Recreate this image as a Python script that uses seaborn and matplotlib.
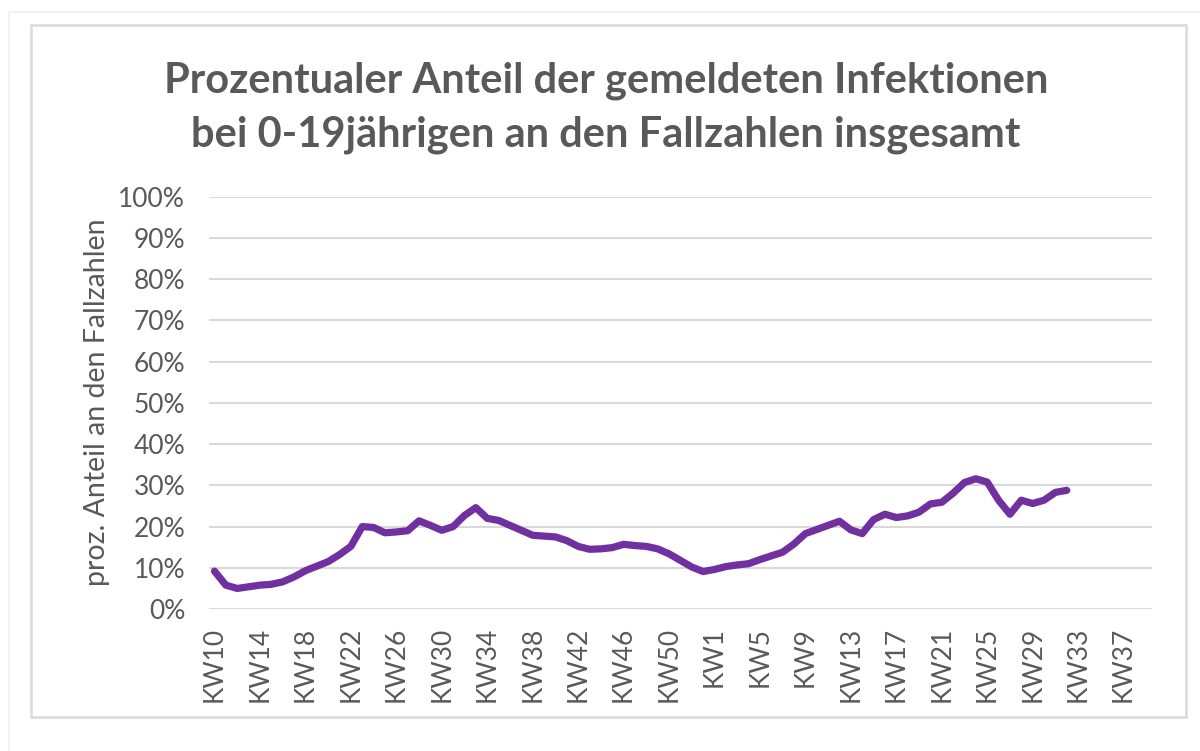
import pandas as pd
import seaborn as sns
import matplotlib.pyplot as plt
from matplotlib.patches import Rectangle
from matplotlib.lines import Line2D
from matplotlib.ticker import PercentFormatter

# calendar weeks on the category axis: 2020 had 53 weeks, axis runs into 2021
weeks_2020 = [f"KW{w}" for w in range(10, 54)]
weeks_2021 = [f"KW{w}" for w in range(1, 40)]
week_labels = weeks_2020 + weeks_2021

# share of reported infections among 0-19 year olds (percent)
share_2020 = [9.2, 5.8, 5.0, 5.4, 5.8, 6.0, 6.6, 7.8, 9.3, 10.4, 11.5, 13.2, 15.2, 20.0,
              19.8, 18.5, 18.7, 19.0, 21.4, 20.3, 19.1, 20.0, 22.7, 24.6, 22.0, 21.5,
              20.3, 19.1, 17.9, 17.7, 17.5, 16.6, 15.2, 14.5, 14.6, 14.9, 15.7, 15.4,
              15.2, 14.6, 13.4, 11.8, 10.2, 9.1]
share_2021 = [9.6, 10.3, 10.7, 11.0, 12.0, 12.9, 13.8, 15.8, 18.3, 19.3, 20.3, 21.3,
              19.2, 18.3, 21.7, 23.0, 22.2, 22.6, 23.5, 25.5, 25.9, 28.1, 30.7, 31.6,
              30.8, 26.4, 23.0, 26.4, 25.6, 26.4, 28.3, 28.8]

title = "Prozentualer Anteil der gemeldeten Infektionen\nbei 0-19jährigen an den Fallzahlen insgesamt"
ylabel = "proz. Anteil an den Fallzahlen"

values = share_2020 + share_2021
df = pd.DataFrame({"pos": range(len(values)), "share": [v / 100 for v in values]})

sns.set_style("white")
plt.rcParams['font.family'] = ['Lato', 'DejaVu Sans']

text_color = "#595959"
grid_color = "#D9D9D9"

fig = plt.figure(figsize=(12, 7.51), dpi=100)
ax = fig.add_axes([0.174, 0.189, 0.786, 0.549])

sns.lineplot(data=df, x="pos", y="share", ax=ax, color="#7030A0", linewidth=5.2,
             solid_capstyle="round", solid_joinstyle="round")

ax.set_xlim(-0.5, len(week_labels) - 0.5)
ax.set_ylim(0, 1)
ax.set_yticks([i / 10 for i in range(11)])
ax.yaxis.set_major_formatter(PercentFormatter(1.0, decimals=0))
ax.set_xticks(range(0, len(week_labels), 4))
ax.set_xticklabels(week_labels[::4], rotation=90)
ax.tick_params(axis="both", length=0, labelsize=19, labelcolor=text_color)
ax.tick_params(axis="x", pad=13)
ax.tick_params(axis="y", pad=17)
ax.grid(axis="y", color=grid_color, linewidth=1.5)
ax.set_axisbelow(True)
for side in ["top", "right", "left", "bottom"]:
    ax.spines[side].set_visible(False)
ax.set_xlabel("")
ax.set_ylabel("")

fig.text(0.081, 0.465, ylabel, rotation=90, ha="center", va="center",
         fontsize=20.5, color=text_color)
fig.text(0.505, 0.857, title, ha="center", va="center", fontsize=30,
         fontweight="bold", color=text_color, linespacing=1.5)

# chart frame and the faint outer sheet edge
fig.patches.append(Rectangle((31 / 1200, 1 - 717 / 751), 1155 / 1200, 692 / 751,
                             transform=fig.transFigure, fill=False,
                             edgecolor="#DADADA", linewidth=1.8))
fig.lines.append(Line2D([9 / 1200, 1], [1 - 12 / 751, 1 - 12 / 751],
                        transform=fig.transFigure, color="#EFEFEF", linewidth=1.2))
fig.lines.append(Line2D([9 / 1200, 9 / 1200], [0, 1 - 12 / 751],
                        transform=fig.transFigure, color="#EFEFEF", linewidth=1.2))

fig.savefig("out.png", dpi=100)
